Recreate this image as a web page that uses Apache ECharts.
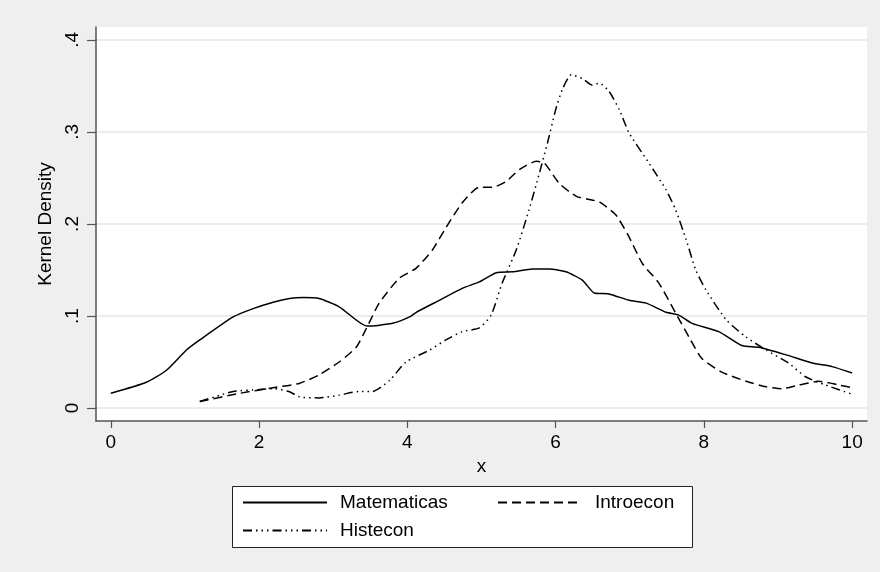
<!DOCTYPE html>
<html>
<head>
<meta charset="utf-8">
<script src="https://cdn.jsdelivr.net/npm/echarts@6/dist/echarts.min.js"></script>
<style>
  html, body { margin:0; padding:0; background:#efefef; }
  #chart { width:880px; height:572px; }
</style>
</head>
<body>
<div id="chart"></div>
<script>
/* kernel density of three grade series, Stata-like look */
var matX   = [0,0.48,0.75,1.02,1.2,1.65,1.92,2.19,2.41,2.6,2.81,3.08,3.46,3.80,4.03,4.12,4.43,4.74,4.97,5.20,5.42,5.69,5.91,6.14,6.36,6.52,6.72,6.99,7.22,7.49,7.66,7.84,8.20,8.51,8.74,9.10,9.46,9.73,10];
var matY   = [0.016,0.028,0.041,0.063,0.074,0.099,0.108,0.115,0.119,0.120,0.119,0.110,0.089,0.092,0.099,0.104,0.117,0.130,0.137,0.147,0.148,0.151,0.151,0.148,0.139,0.125,0.124,0.117,0.114,0.104,0.101,0.092,0.083,0.068,0.066,0.058,0.049,0.045,0.038];
var introX = [1.2,1.74,2.19,2.55,2.81,3.08,3.31,3.45,3.62,3.89,4.12,4.34,4.52,4.74,4.97,5.15,5.33,5.51,5.74,5.85,6.05,6.28,6.49,6.59,6.81,6.99,7.17,7.39,7.62,7.80,7.97,8.24,8.57,8.84,9.05,9.28,9.55,9.82,10];
var introY = [0.007,0.016,0.022,0.027,0.036,0.050,0.066,0.087,0.114,0.141,0.152,0.172,0.196,0.223,0.240,0.240,0.246,0.259,0.268,0.266,0.244,0.230,0.226,0.224,0.210,0.186,0.157,0.136,0.103,0.077,0.054,0.039,0.029,0.023,0.021,0.025,0.029,0.025,0.022];
var histX  = [1.2,1.65,2.0,2.19,2.4,2.55,2.81,3.08,3.35,3.53,3.76,3.98,4.30,4.52,4.74,4.97,5.13,5.28,5.47,5.64,5.78,5.89,6.0,6.09,6.21,6.36,6.49,6.59,6.72,6.86,6.99,7.26,7.49,7.62,7.76,7.89,8.03,8.30,8.57,8.84,9.14,9.37,9.64,10];
var histY  = [0.007,0.018,0.020,0.021,0.018,0.012,0.011,0.014,0.018,0.018,0.030,0.050,0.063,0.074,0.083,0.087,0.101,0.136,0.172,0.215,0.255,0.288,0.324,0.346,0.362,0.358,0.351,0.353,0.344,0.324,0.299,0.266,0.237,0.215,0.183,0.150,0.128,0.096,0.077,0.063,0.049,0.034,0.025,0.015];

var seriesNames = ["Matematicas","Introecon","Histecon"];
var xTicks = [0,2,4,6,8,10];
var yTicks = [0,0.1,0.2,0.3,0.4];
var yTickLabels = ["0",".1",".2",".3",".4"];

function pairs(xs, ys){ return xs.map(function(x,i){ return [x, ys[i]]; }); }

var FONT = "'Liberation Sans', Arial, sans-serif";
var AXIS_C = "#555";

var ch = echarts.init(document.getElementById("chart"), null, {renderer:"canvas"});

function legendAt(name, left, top){
  return {
    data:[name], left:left, top:top, padding:0, orient:"horizontal",
    itemWidth:84, itemHeight:14, selectedMode:false,
    itemStyle:{ color:"transparent", borderColor:"transparent", borderWidth:0, opacity:0 },
    textStyle:{ fontFamily:FONT, fontSize:19, color:"#000", padding:[0,0,0,8] }
  };
}

ch.setOption({
  animation:false,
  backgroundColor:"#efefef",
  textStyle:{ fontFamily:FONT },
  grid:{ left:96, right:13, top:27, bottom:151, show:true, backgroundColor:"#fff", borderWidth:0 },
  graphic:[{ type:"rect", left:232, top:486, z:-1,
    shape:{ width:460, height:61 },
    style:{ fill:"#fff", stroke:"#222", lineWidth:1 } }],
  legend:[
    legendAt(seriesNames[0], 242, 493),
    legendAt(seriesNames[1], 497, 493),
    legendAt(seriesNames[2], 242, 521)
  ],
  xAxis:{
    type:"value", min:-0.2, max:10.2,
    name:"x", nameLocation:"middle", nameGap:32,
    nameTextStyle:{ fontFamily:FONT, fontSize:19, color:"#000" },
    axisLine:{ show:true, onZero:false, lineStyle:{ color:AXIS_C, width:1.5 } },
    axisTick:{ show:true, customValues:xTicks, length:7, lineStyle:{ color:AXIS_C, width:1.2 } },
    axisLabel:{ customValues:xTicks, fontFamily:FONT, fontSize:19, color:"#000", margin:12 },
    splitLine:{ show:false }
  },
  yAxis:{
    type:"value", min:-0.0141, max:0.414,
    name:"Kernel Density", nameLocation:"middle", nameGap:41,
    nameTextStyle:{ fontFamily:FONT, fontSize:19, color:"#000" },
    axisLine:{ show:true, onZero:false, lineStyle:{ color:AXIS_C, width:1.5 } },
    axisTick:{ show:true, customValues:yTicks, length:9, lineStyle:{ color:AXIS_C, width:1.2 } },
    axisLabel:{ customValues:yTicks, rotate:90, fontFamily:FONT, fontSize:19, color:"#000", margin:14,
      formatter:function(v){ var i = yTicks.indexOf(+v); return i>=0 ? yTickLabels[i] : ""; } },
    splitLine:{ show:true, lineStyle:{ color:"#e6e6e6", width:1.5 } }
  },
  series:[
    { name:seriesNames[0], type:"line", data:pairs(matX, matY), symbol:"none", smooth:0.2,
      lineStyle:{ color:"#000", width:1.5, type:"solid" }, itemStyle:{ color:"#000" } },
    { name:seriesNames[1], type:"line", data:pairs(introX, introY), symbol:"none", smooth:0.2,
      lineStyle:{ color:"#000", width:1.5, type:[9,5] }, itemStyle:{ color:"#000" } },
    { name:seriesNames[2], type:"line", data:pairs(histX, histY), symbol:"none", smooth:0.2,
      lineStyle:{ color:"#000", width:1.5, type:[9,4,1.5,4,1.5,4,1.5,4] }, itemStyle:{ color:"#000" } }
  ]
});
</script>
</body>
</html>
